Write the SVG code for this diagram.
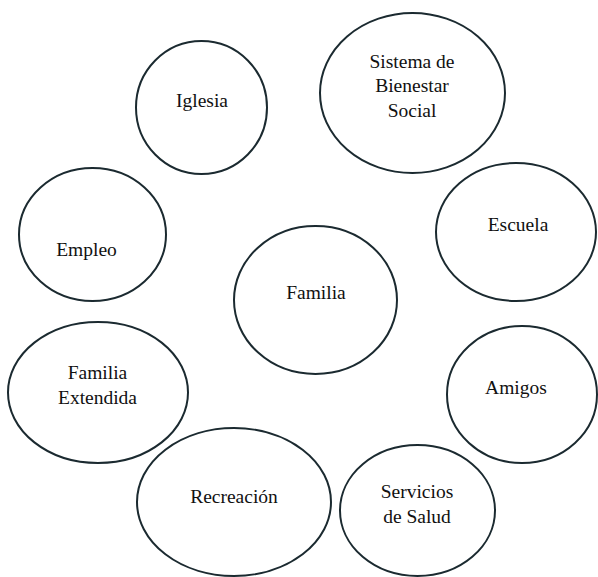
<svg xmlns="http://www.w3.org/2000/svg" width="598" height="577" viewBox="0 0 598 577">
<style>
.n ellipse{fill:#fff;stroke:#1b2a30;stroke-width:2}
.n text{font-size:19.5px;fill:#111;text-anchor:middle}
</style>
<rect width="598" height="577" fill="#fff"/>
<g id="connectors"></g>
<g font-family="Liberation Serif, Tinos, Times New Roman, DejaVu Serif, serif">
<g id="iglesia" class="n"><ellipse cx="201.5" cy="107.5" rx="65.5" ry="66.5"/><text x="202" y="107">Iglesia</text></g>
<g id="sistema" class="n"><ellipse cx="412.5" cy="93" rx="92.5" ry="80"/><text x="412" y="68">Sistema de</text><text x="412" y="92">Bienestar</text><text x="412" y="116.5">Social</text></g>
<g id="empleo" class="n"><ellipse cx="92.5" cy="234.5" rx="73.5" ry="66.5"/><text x="86.5" y="256">Empleo</text></g>
<g id="escuela" class="n"><ellipse cx="516" cy="232" rx="80" ry="69"/><text x="518" y="231">Escuela</text></g>
<g id="familia" class="n"><ellipse cx="315.5" cy="300" rx="81.5" ry="74"/><text x="316" y="299">Familia</text></g>
<g id="familia-extendida" class="n"><ellipse cx="98" cy="392.5" rx="90" ry="70.5"/><text x="97.5" y="378.5">Familia</text><text x="97.5" y="403.5">Extendida</text></g>
<g id="amigos" class="n"><ellipse cx="522" cy="394.5" rx="75" ry="68.5"/><text x="516" y="393.5">Amigos</text></g>
<g id="recreacion" class="n"><ellipse cx="234" cy="502" rx="97" ry="74"/><text x="234" y="503">Recreación</text></g>
<g id="servicios" class="n"><ellipse cx="417.5" cy="510.5" rx="77.5" ry="65.5"/><text x="417" y="498">Servicios</text><text x="417" y="522.5">de Salud</text></g>
</g>
</svg>
